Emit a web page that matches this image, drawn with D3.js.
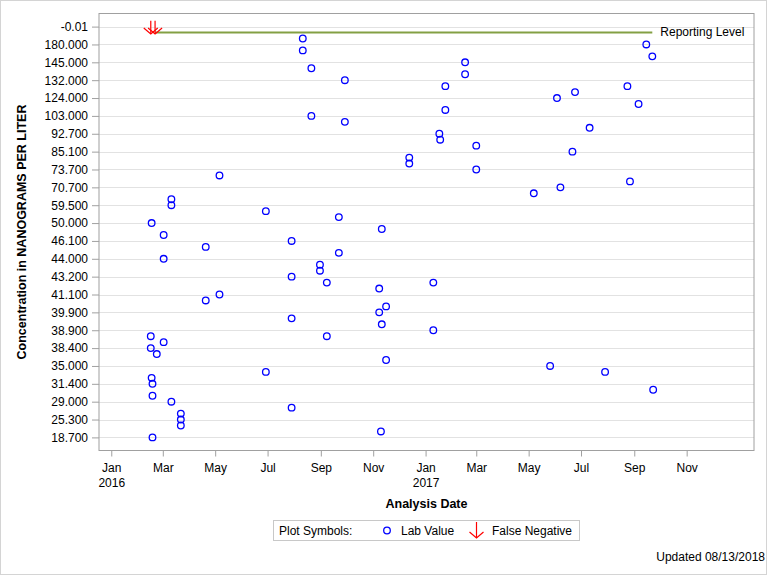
<!DOCTYPE html>
<html>
<head>
<meta charset="utf-8">
<script src="https://cdn.jsdelivr.net/npm/d3@7"></script>
<style>
  html, body { margin: 0; padding: 0; background: #fff; }
  svg { display: block; font-family: "Liberation Sans", Arial, sans-serif; }
</style>
</head>
<body>
<svg id="chart" width="768" height="576"></svg>
<script>
// Y axis is a rank axis: every third rank carries the value label
const yTickLabels = ["-0.01","180.000","145.000","132.000","124.000","103.000","92.700","85.100",
  "73.700","70.700","59.500","50.000","46.100","44.000","43.200","41.100","39.900","38.900",
  "38.400","35.000","31.400","29.000","25.300","18.700"];
const yTickRanks = yTickLabels.map((d, i) => i * 3);

// Lab values: analysis date and rank of the concentration on the axis
const labDates = [
  "2016-02-17","2016-03-11","2016-03-11","2016-05-06","2016-03-02","2016-04-20","2016-03-02","2016-05-06",
  "2016-04-20","2016-02-16","2016-03-02","2016-02-16","2016-02-23","2016-02-17","2016-02-18","2016-02-18",
  "2016-03-11","2016-03-22","2016-03-22","2016-03-22","2016-02-18",
  "2016-08-11","2016-08-11","2016-08-21","2016-09-29","2017-02-16","2017-02-16","2017-01-24","2017-01-24",
  "2016-08-21","2016-09-29","2017-01-17","2017-01-18","2017-03-01","2016-12-13","2016-12-13","2017-03-01",
  "2016-06-29","2016-09-22","2016-11-11",
  "2016-07-29","2016-09-22","2016-08-31","2016-08-31","2016-07-29","2016-09-08","2017-01-10","2016-11-08",
  "2016-11-16","2016-11-08","2016-07-29","2016-11-11","2017-01-10","2016-09-08","2016-11-16","2016-06-29",
  "2016-07-29","2016-11-10",
  "2017-09-15","2017-09-22","2017-08-24","2017-06-24","2017-06-03","2017-09-06","2017-07-11","2017-06-21",
  "2017-08-27","2017-06-07","2017-05-07",
  "2017-05-26","2017-07-29","2017-09-23"
];
const labRanks = [
  33,29,30,25,35,37,39,45,
  46,52,53,54,55,59,60,62,
  63,65,66,67,69,
  2,4,7,9,6,8,10,14,
  15,16,18,19,20,22,23,24,
  31,32,34,
  36,38,40,41,42,43,43,44,
  47,48,49,50,51,52,56,58,
  64,68,
  3,5,10,11,12,13,17,21,
  26,27,28,
  57,58,61
];

// False negatives (shown at the reporting level)
const fnDates = ["2016-02-16","2016-02-21"];
const reportingRank = 1;
const reportingStart = "2016-02-21";
const reportingEnd = "2017-09-22";

const xTickDates = ["2016-01-01","2016-03-01","2016-05-01","2016-07-01","2016-09-01","2016-11-01",
  "2017-01-01","2017-03-01","2017-05-01","2017-07-01","2017-09-01","2017-11-01"];
const monthNames = ["Jan","Feb","Mar","Apr","May","Jun","Jul","Aug","Sep","Oct","Nov","Dec"];

const svg = d3.select("#chart");
const parse = d3.utcParse("%Y-%m-%d");

const L = 99, R = 754, T = 13.5, B = 450.5;

const x = d3.scaleUtc()
  .domain([Date.UTC(2015, 11, 17, 17), Date.UTC(2018, 0, 18, 10)])
  .range([L, R]);
const y = d3.scaleLinear().domain([-2.2, 71.2]).range([T, B]);

// outer border
svg.append("rect").attr("x", 0.5).attr("y", 0.5).attr("width", 766).attr("height", 574)
  .attr("fill", "none").attr("stroke", "#d4d4d4");

// grid lines
svg.append("g").selectAll("line").data(yTickRanks).join("line")
  .attr("x1", L).attr("x2", R)
  .attr("y1", d => Math.round(y(d)) + 0.5).attr("y2", d => Math.round(y(d)) + 0.5)
  .attr("stroke", "#e2e2e2").attr("stroke-width", 1);

// Y axis
const yAxis = d3.axisLeft(y).tickValues(yTickRanks)
  .tickFormat((d, i) => yTickLabels[i]).tickSize(7).tickPadding(4);
const gy = svg.append("g").attr("transform", `translate(${L},0)`).call(yAxis);
gy.select(".domain").remove();
gy.selectAll(".tick line").attr("stroke", "#a0a0a0");
gy.selectAll(".tick text").attr("font-size", 12).attr("fill", "#000")
  .attr("font-family", "Liberation Sans, Arial, sans-serif");

// X axis
const xAxis = d3.axisBottom(x).tickValues(xTickDates.map(parse))
  .tickFormat(d => monthNames[d.getUTCMonth()]).tickSize(6).tickPadding(7);
const gx = svg.append("g").attr("transform", `translate(0,${B})`).call(xAxis);
gx.select(".domain").remove();
gx.selectAll(".tick line").attr("stroke", "#a0a0a0");
gx.selectAll(".tick text").attr("font-size", 12).attr("fill", "#000")
  .attr("font-family", "Liberation Sans, Arial, sans-serif");
gx.selectAll(".tick").filter(d => d.getUTCMonth() === 0)
  .append("text").attr("y", 28).attr("dy", "0.71em").attr("text-anchor", "middle")
  .attr("font-size", 12).attr("fill", "#000")
  .attr("font-family", "Liberation Sans, Arial, sans-serif")
  .text(d => d.getUTCFullYear());

// frame
svg.append("rect").attr("x", L).attr("y", T).attr("width", R - L).attr("height", B - T)
  .attr("fill", "none").attr("stroke", "#a0a0a0").attr("stroke-width", 1);

// reporting level
svg.append("line")
  .attr("x1", x(parse(reportingStart))).attr("x2", x(parse(reportingEnd)))
  .attr("y1", y(reportingRank)).attr("y2", y(reportingRank))
  .attr("stroke", "#83a044").attr("stroke-width", 2);
svg.append("text").attr("x", x(parse(reportingEnd)) + 8).attr("y", y(reportingRank))
  .attr("dy", "0.32em").attr("font-size", 12).attr("fill", "#000").text("Reporting Level");

// false negative arrows
function arrow(g, cx, y0, y1) {
  g.append("line").attr("x1", cx).attr("x2", cx).attr("y1", y0).attr("y2", y1)
    .attr("stroke", "#ff0000").attr("stroke-width", 1.2);
  g.append("path").attr("d", `M${cx - 7},${y1 - 6}L${cx},${y1}L${cx + 7},${y1 - 6}`)
    .attr("fill", "none").attr("stroke", "#ff0000").attr("stroke-width", 1.2);
}
const fnG = svg.append("g");
fnDates.forEach(d => arrow(fnG, x(parse(d)), y(-1), y(reportingRank) + 1.5));

// lab values
const labData = labDates.map((d, i) => ({ date: parse(d), rank: labRanks[i] }));
svg.append("g").selectAll("circle").data(labData).join("circle")
  .attr("cx", d => x(d.date)).attr("cy", d => y(d.rank)).attr("r", 3.3)
  .attr("fill", "none").attr("stroke", "#0000ff").attr("stroke-width", 1.3);

// axis titles
svg.append("text").attr("transform", `translate(26,${(T + B) / 2}) rotate(-90)`)
  .attr("text-anchor", "middle").attr("font-size", 12.5).attr("font-weight", "bold")
  .attr("fill", "#000").text("Concentration in NANOGRAMS PER LITER");
svg.append("text").attr("x", (L + R) / 2).attr("y", 508).attr("text-anchor", "middle")
  .attr("font-size", 12.5).attr("font-weight", "bold").attr("fill", "#000").text("Analysis Date");

// legend
const lg = svg.append("g");
lg.append("rect").attr("x", 273.5).attr("y", 520.5).attr("width", 306).attr("height", 20)
  .attr("fill", "#fff").attr("stroke", "#c8c8c8");
lg.append("text").attr("x", 279).attr("y", 531).attr("dy", "0.32em").attr("font-size", 12)
  .attr("fill", "#000").text("Plot Symbols:");
lg.append("circle").attr("cx", 387).attr("cy", 530.5).attr("r", 3.3)
  .attr("fill", "none").attr("stroke", "#0000ff").attr("stroke-width", 1.3);
lg.append("text").attr("x", 401).attr("y", 531).attr("dy", "0.32em").attr("font-size", 12)
  .attr("fill", "#000").text("Lab Value");
arrow(lg, 476.5, 522, 538);
lg.append("text").attr("x", 492).attr("y", 531).attr("dy", "0.32em").attr("font-size", 12)
  .attr("fill", "#000").text("False Negative");

// footnote
svg.append("text").attr("x", 765).attr("y", 557).attr("dy", "0.32em").attr("text-anchor", "end")
  .attr("font-size", 12).attr("fill", "#000").text("Updated 08/13/2018");
</script>
</body>
</html>
